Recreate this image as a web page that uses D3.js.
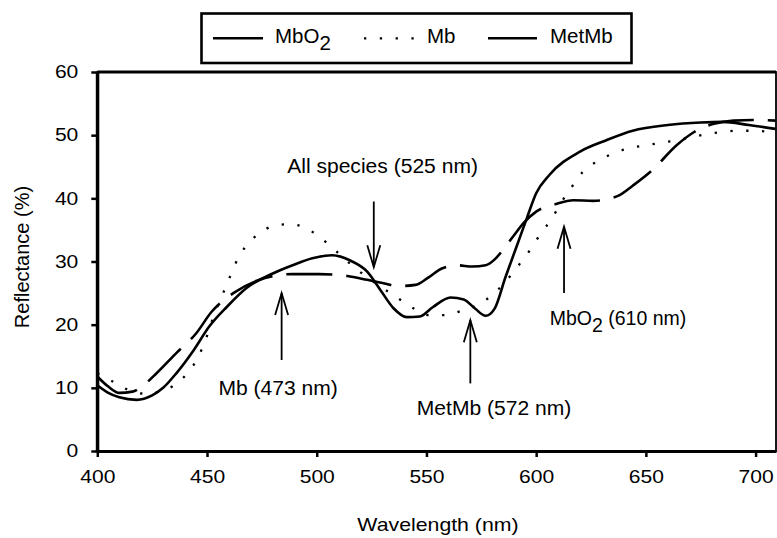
<!DOCTYPE html>
<html>
<head>
<meta charset="utf-8">
<script src="https://cdn.jsdelivr.net/npm/d3@7"></script>
<style>
  body { margin: 0; background: #fff; }
  text { font-family: "Liberation Sans", Arial, sans-serif; fill: #000; }
</style>
</head>
<body>
<div id="chart"></div>
<script>
// reflectance spectra, [wavelength nm, reflectance %]
const mbo2 = [[400,10.4],[405,9.2],[410,8.5],[418,8.1],[425,8.8],[430,10],[436,12.3],[444,16],[451,19.7],[459,22.8],
  [468,25.8],[480,28.1],[489,29.4],[498,30.5],[507,31.0],[515,30.2],[523,28.4],[529,25.5],[535,22.6],[541,21.2],
  [547,21.3],[553,22.8],[561,24.3],[567,24.0],[572,22.6],[577,21.4],[581,22.5],[586,27.5],[591,32.3],[596,37.1],
  [600,40.8],[606,43.7],[620,47.4],[632,49.2],[644,50.7],[660,51.6],[675,52.0],[685,52.1],[697,51.6],[709,51.0]];

const mb = [[400,12.3],[406,11.2],[414,9.7],[421,9.1],[428,9.4],[435,10.4],[441,12.3],[446,14.9],[449,17.3],[454,22.3],
  [457,24.7],[460,27.2],[463,29.7],[467,32.1],[474,34.5],[481,35.7],[488,35.9],[495,35.3],[502,33.7],[509,31.6],
  [516,29.4],[523,27.5],[530,25.8],[537,24.2],[544,22.6],[551,21.5],[558,21.5],[566,22.2],[573,23.1],[580,24.7],
  [586,26.8],[592,29.4],[597,31.7],[602,34.4],[607,36.7],[611,39.1],[616,41.7],[621,44.1],[628,45.9],[635,47.1],
  [642,47.9],[650,48.4],[657,48.8],[664,49.2],[671,49.7],[678,50.2],[685,50.5],[692,50.7],[699,50.7],[709,50.4]];

const metmb = [[400,11.8],[405,10.2],[410,9.2],[416,9.4],[421,10.4],[427,12.3],[436,15.5],[445,18.6],[452,22.0],[462,25],
  [473,27],[480,27.7],[489,28.0],[501,28.0],[514,27.7],[523,27.1],[530,26.6],[537,26.1],[545,26.3],[551,27.5],
  [557,28.9],[564,29.4],[571,29.2],[577,29.4],[581,30.3],[585,31.9],[590,34.2],[594,36.0],[600,37.9],[609,39.1],
  [617,39.7],[626,39.6],[634,40.0],[638,40.5],[644,42.0],[653,44.5],[664,48.4],[672,50.5],[681,51.8],[690,52.3],
  [699,52.4],[709,52.3]];

const xTicks = [400, 450, 500, 550, 600, 650, 700];
const yTicks = [0, 10, 20, 30, 40, 50, 60];

// arrows: wavelength, tail value, tip value; label anchor in data units
const arrows = [
  {nm: 526, from: 39.5, to: 29.1, tx: 530, ty: 44.0, label: ["All species (525 nm)"]},
  {nm: 484, from: 14.4, to: 25.0, tx: 482.4, ty: 8.9, label: ["Mb (473 nm)"]},
  {nm: 570, from: 10.7, to: 20.7, tx: 580.8, ty: 5.7, label: ["MetMb (572 nm)"]},
  {nm: 612.7, from: 25.0, to: 35.5, tx: 637.3, ty: 19.9, label: ["MbO", "2", " (610 nm)"]}
];

const W = 777, H = 538;
const plot = {left: 97.3, right: 776, top: 72, bottom: 451};

const svg = d3.select("#chart").append("svg")
  .attr("width", W).attr("height", H);

const x = d3.scaleLinear().domain([400, 709.3]).range([plot.left, plot.right]);
const y = d3.scaleLinear().domain([0, 60]).range([plot.bottom, plot.top]);

// stretch text horizontally like the original picture
function stretch(sel, k) {
  sel.each(function() {
    const w = this.getComputedTextLength();
    d3.select(this).attr("textLength", w * k).attr("lengthAdjust", "spacingAndGlyphs");
  });
}

// frame
svg.append("rect")
  .attr("x", plot.left).attr("y", plot.top)
  .attr("width", plot.right - plot.left).attr("height", plot.bottom - plot.top)
  .attr("fill", "none").attr("stroke", "#000").attr("stroke-width", 1.8);
svg.append("line")
  .attr("x1", plot.left).attr("x2", plot.right).attr("y1", plot.top).attr("y2", plot.top)
  .attr("stroke", "#000").attr("stroke-width", 3);

const line = d3.line()
  .x(d => x(d[0]))
  .y(d => y(d[1]))
  .curve(d3.curveMonotoneX);

svg.append("path").datum(mbo2)
  .attr("d", line).attr("fill", "none").attr("stroke", "#000").attr("stroke-width", 2.6);
svg.append("path").datum(mb)
  .attr("d", line).attr("fill", "none").attr("stroke", "#000").attr("stroke-width", 2.3)
  .attr("stroke-dasharray", "2.3,13.5");
svg.append("path").datum(metmb)
  .attr("d", line).attr("fill", "none").attr("stroke", "#000").attr("stroke-width", 2.6)
  .attr("stroke-dasharray", "46,14");

// axes
const yAxis = svg.append("g")
  .attr("transform", `translate(${plot.left},0)`)
  .call(d3.axisLeft(y).tickValues(yTicks).tickSize(6).tickSizeOuter(0).tickPadding(13));
const xAxis = svg.append("g")
  .attr("transform", `translate(0,${plot.bottom})`)
  .call(d3.axisBottom(x).tickValues(xTicks).tickSize(6).tickSizeOuter(0).tickPadding(13));

[yAxis, xAxis].forEach(g => {
  g.select(".domain").attr("stroke-width", 3);
  g.selectAll(".tick line").attr("stroke-width", 2.5);
  g.selectAll("text").style("font-size", "18px").style("font-family", "Liberation Sans, Arial, sans-serif");
  stretch(g.selectAll("text"), 1.17);
});
// extend the y axis domain down to the x axis
svg.append("line")
  .attr("x1", plot.left).attr("x2", plot.left).attr("y1", plot.top).attr("y2", plot.bottom + 1.5)
  .attr("stroke", "#000").attr("stroke-width", 3);

// axis titles
svg.append("text")
  .attr("text-anchor", "middle")
  .attr("transform", "translate(29,257)rotate(-90)")
  .style("font-size", "20px")
  .text("Reflectance (%)");

svg.append("text")
  .attr("text-anchor", "middle")
  .attr("x", 438).attr("y", 531)
  .style("font-size", "19px")
  .text("Wavelength (nm)")
  .call(stretch, 1.12);

// arrows and labels
arrows.forEach(a => {
  const ax = x(a.nm), y1 = y(a.from), y2 = y(a.to);
  const dir = y2 > y1 ? 1 : -1;
  svg.append("line")
    .attr("x1", ax).attr("x2", ax).attr("y1", y1).attr("y2", y2)
    .attr("stroke", "#000").attr("stroke-width", 1.8);
  svg.append("polyline")
    .attr("points", [[ax - 6.5, y2 - dir * 22], [ax, y2], [ax + 6.5, y2 - dir * 22]].join(" "))
    .attr("fill", "none").attr("stroke", "#000").attr("stroke-width", 1.8);

  const t = svg.append("text")
    .attr("text-anchor", "middle")
    .attr("x", x(a.tx)).attr("y", y(a.ty))
    .style("font-size", "19.5px");
  a.label.forEach((s, i) => {
    const sp = t.append("tspan").text(s);
    if (a.label.length > 1 && i === 1) sp.attr("dy", 7);
    if (a.label.length > 1 && i === 2) sp.attr("dy", -7);
  });
  if (a.label.length === 1) stretch(t, 1.08);
});

// legend
const legend = svg.append("g");
legend.append("rect")
  .attr("x", 201.5).attr("y", 13.5).attr("width", 430).attr("height", 49.5)
  .attr("fill", "#fff").attr("stroke", "#000").attr("stroke-width", 2.6);

const legendItems = [
  {x1: 213, x2: 263, tx: 275, dash: null, w: 2.6, label: ["MbO", "2"]},
  {x1: 364, x2: 414, tx: 427, dash: "2.3,13.5", w: 2.3, label: ["Mb"]},
  {x1: 488, x2: 537, tx: 550, dash: null, w: 2.6, label: ["MetMb"]}
];
legendItems.forEach(it => {
  legend.append("line")
    .attr("x1", it.x1).attr("x2", it.x2).attr("y1", 38.3).attr("y2", 38.3)
    .attr("stroke", "#000").attr("stroke-width", it.w)
    .attr("stroke-dasharray", it.dash);
  const t = legend.append("text").attr("x", it.tx).attr("y", 42.7).style("font-size", "20.5px");
  it.label.forEach((s, i) => {
    const sp = t.append("tspan").text(s);
    if (i === 1) sp.attr("dy", 7);
  });
});
</script>
</body>
</html>
